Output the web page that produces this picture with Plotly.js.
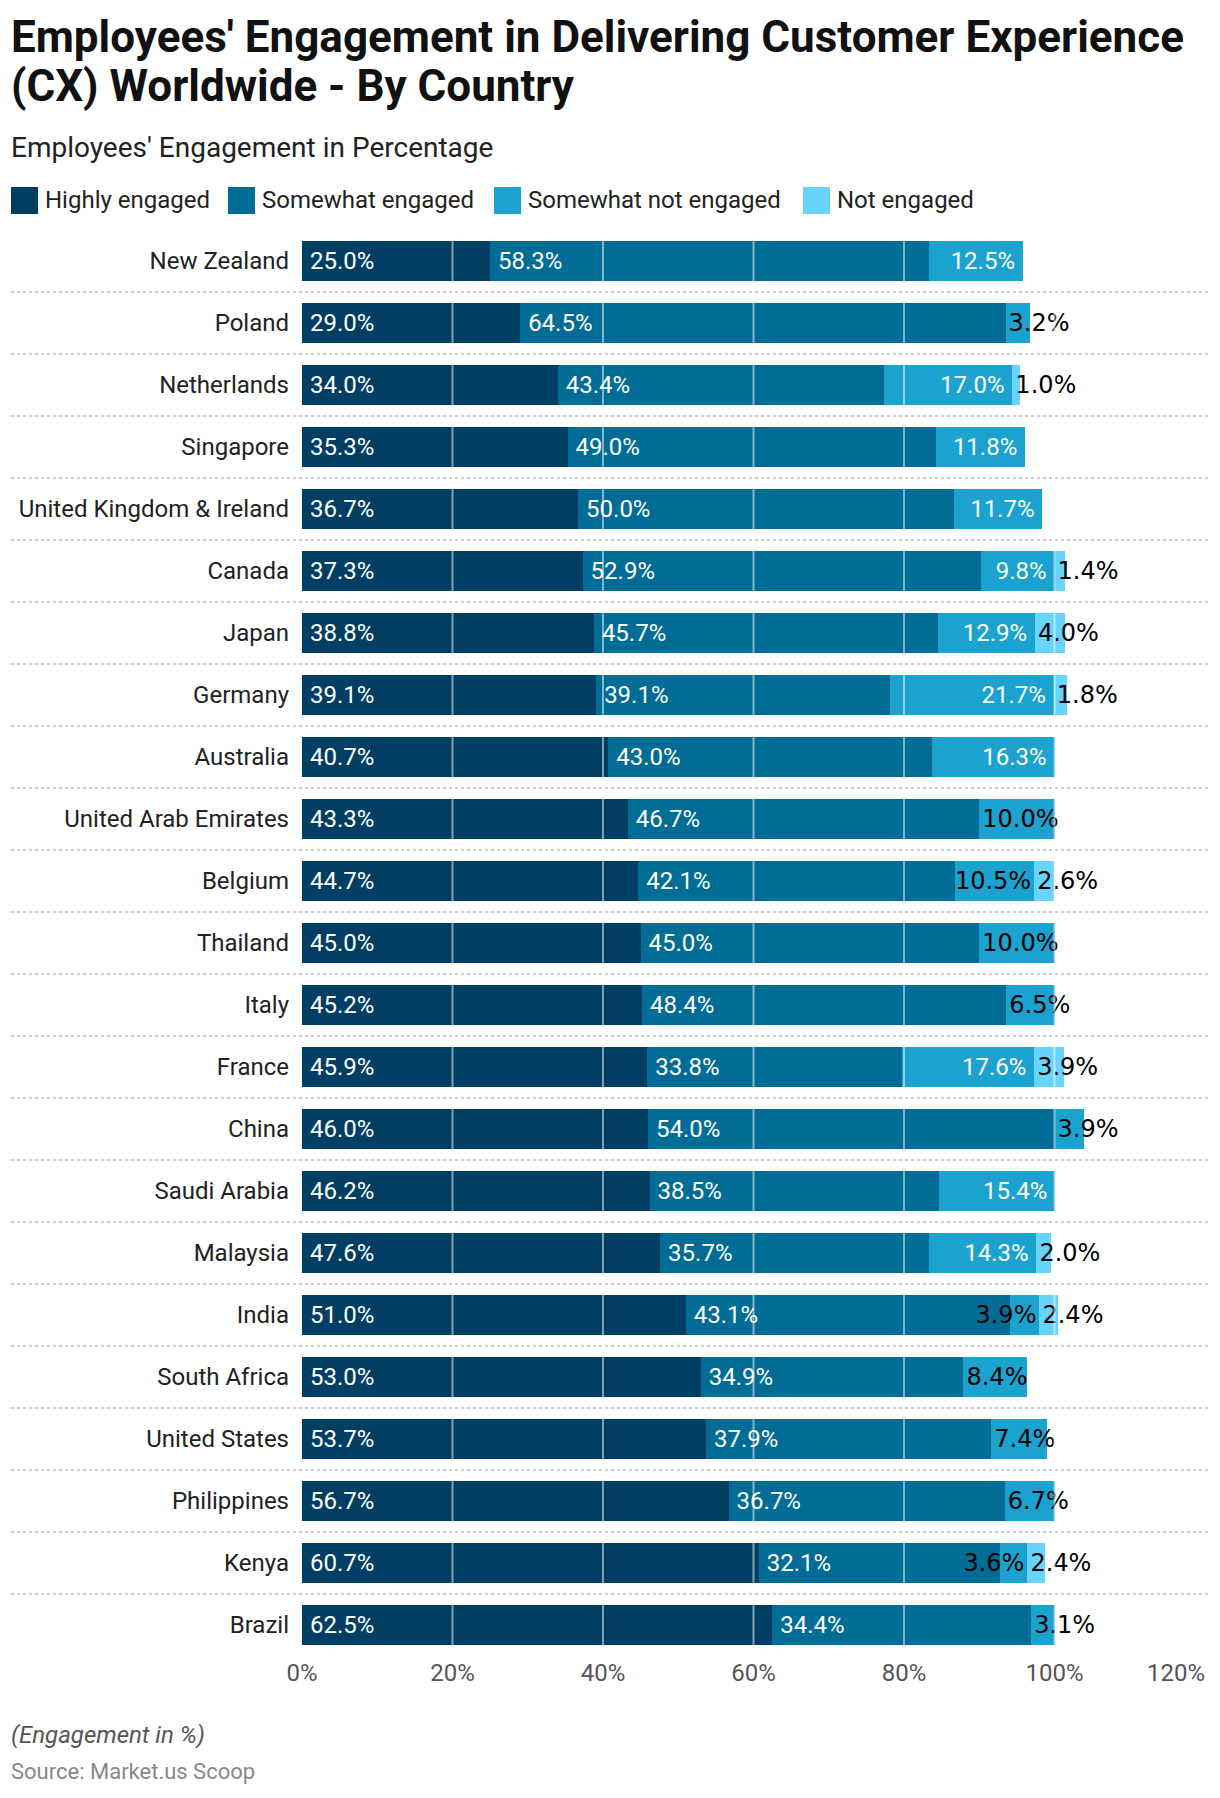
<!DOCTYPE html>
<html>
<head>
<meta charset="utf-8">
<script src="https://cdn.plot.ly/plotly-3.0.1.min.js"></script>
<style>
  html, body { margin: 0; padding: 0; background: #ffffff; }
  #chart { width: 1220px; height: 1798px; }
</style>
</head>
<body>
<div id="chart"></div>
<script>
// ---------------- DATA ----------------
const countries = [
  'New Zealand', 'Poland', 'Netherlands', 'Singapore', 'United Kingdom & Ireland',
  'Canada', 'Japan', 'Germany', 'Australia', 'United Arab Emirates', 'Belgium',
  'Thailand', 'Italy', 'France', 'China', 'Saudi Arabia', 'Malaysia', 'India',
  'South Africa', 'United States', 'Philippines', 'Kenya', 'Brazil'
];
const highlyEngaged = [25.0, 29.0, 34.0, 35.3, 36.7, 37.3, 38.8, 39.1, 40.7, 43.3, 44.7,
  45.0, 45.2, 45.9, 46.0, 46.2, 47.6, 51.0, 53.0, 53.7, 56.7, 60.7, 62.5];
const somewhatEngaged = [58.3, 64.5, 43.4, 49.0, 50.0, 52.9, 45.7, 39.1, 43.0, 46.7, 42.1,
  45.0, 48.4, 33.8, 54.0, 38.5, 35.7, 43.1, 34.9, 37.9, 36.7, 32.1, 34.4];
const somewhatNotEngaged = [12.5, 3.2, 17.0, 11.8, 11.7, 9.8, 12.9, 21.7, 16.3, 10.0, 10.5,
  10.0, 6.5, 17.6, 3.9, 15.4, 14.3, 3.9, 8.4, 7.4, 6.7, 3.6, 3.1];
const notEngaged = [null, null, 1.0, null, null, 1.4, 4.0, 1.8, null, null, 2.6,
  null, null, 3.9, null, null, 2.0, 2.4, null, null, null, 2.4, null];
const seriesNames = ['Highly engaged', 'Somewhat engaged', 'Somewhat not engaged', 'Not engaged'];
const xTickValues = [0, 20, 40, 60, 80, 100, 120];
const xTickLabels = ['0%', '20%', '40%', '60%', '80%', '100%', '120%'];

const titleLines = ["Employees' Engagement in Delivering Customer Experience", "(CX) Worldwide - By Country"];
const subtitleText = "Employees' Engagement in Percentage";
const noteText = "(Engagement in %)";
const sourceText = "Source: Market.us Scoop";

// ---------------- LAYOUT CONSTANTS ----------------
const W = 1220, H = 1798;
const M = { l: 302, r: 15, t: 230, b: 142 };
const plotW = W - M.l - M.r;
const plotH = H - M.t - M.b;
const X_MAX = 120;
const pxPerUnit = plotW / X_MAX;
const COLORS = ['#003f63', '#016d96', '#1ba2cf', '#67d4fd'];
const WHITE_FONT = 'Roboto, sans-serif';
const DARK_FONT = '"DejaVu Sans", sans-serif';
const LABEL_SIZE = 24;
const PAD = '\u2009';

const px2x = px => (px - M.l) / plotW;
const px2y = py => (M.t + plotH - py) / plotH;
const fmt = v => v.toFixed(1) + '%';
const fits = v => v * pxPerUnit >= fmt(v).length * 15.3 + 6;

// ---------------- TRACES ----------------
function barTrace(name, values, color, anchor, fontColors, fontFamilies, padded) {
  return {
    type: 'bar',
    orientation: 'h',
    name: name,
    y: countries,
    x: values,
    text: values.map((v, i) => (v == null ? '' : (padded[i] ? PAD + fmt(v) + PAD : fmt(v)))),
    textposition: 'inside',
    insidetextanchor: anchor,
    textangle: 0,
    constraintext: 'none',
    cliponaxis: false,
    textfont: { size: LABEL_SIZE, color: fontColors, family: fontFamilies },
    marker: { color: color, line: { width: 0 } },
    hoverinfo: 'name+x+y',
    showlegend: false
  };
}

const n = countries.length;
const whiteCols = countries.map(() => '#ffffff');
const whiteFams = countries.map(() => WHITE_FONT);
const blackCols = countries.map(() => '#000000');
const blackFams = countries.map(() => DARK_FONT);
const allPad = countries.map(() => true);
const noPad = countries.map(() => false);

// Somewhat-not-engaged split by label placement (same series, same colour)
const endAnchored = (v, i) => fits(v) || notEngaged[i] != null;
const sneEnd = somewhatNotEngaged.map((v, i) => endAnchored(v, i) ? v : null);
const sneStart = somewhatNotEngaged.map((v, i) => endAnchored(v, i) ? null : v);
const sneEndCols = somewhatNotEngaged.map(v => fits(v) ? '#ffffff' : '#000000');
const sneEndFams = somewhatNotEngaged.map(v => fits(v) ? WHITE_FONT : DARK_FONT);
const sneEndPad = somewhatNotEngaged.map(v => fits(v));

const traces = [
  barTrace(seriesNames[0], highlyEngaged, COLORS[0], 'start', whiteCols, whiteFams, allPad),
  barTrace(seriesNames[1], somewhatEngaged, COLORS[1], 'start', whiteCols, whiteFams, allPad),
  barTrace(seriesNames[2], sneEnd, COLORS[2], 'end', sneEndCols, sneEndFams, sneEndPad),
  barTrace(seriesNames[2], sneStart, COLORS[2], 'start', blackCols, blackFams, noPad),
  barTrace(seriesNames[3], notEngaged, COLORS[3], 'start', blackCols, blackFams, noPad),
  // empty helper trace so the overlaying axis (last tick label) is drawn
  { type: 'scatter', mode: 'markers', x: [], y: [], xaxis: 'x2', yaxis: 'y',
    hoverinfo: 'skip', showlegend: false }
];

// ---------------- SHAPES ----------------
const shapes = [];
for (let i = 0; i < n - 1; i++) {
  shapes.push({
    type: 'line', xref: 'paper', yref: 'y',
    x0: px2x(11), x1: px2x(1208), y0: i + 0.5, y1: i + 0.5,
    line: { color: '#cccccc', width: 2, dash: 'dot' }, layer: 'below'
  });
}
xTickValues.filter(v => v > 0 && v < X_MAX).forEach(v => {
  shapes.push({
    type: 'line', xref: 'x', yref: 'paper', x0: v, x1: v, y0: 0, y1: 1,
    line: { color: 'rgba(255,255,255,0.5)', width: 2 }, layer: 'above'
  });
});

// custom legend
const legendSquares = [11, 228, 494, 803];
const annotations = [];
seriesNames.forEach((name, k) => {
  const x0 = legendSquares[k];
  shapes.push({
    type: 'rect', xref: 'paper', yref: 'paper',
    x0: px2x(x0), x1: px2x(x0 + 27), y0: px2y(187), y1: px2y(214),
    fillcolor: COLORS[k], line: { width: 0 }, layer: 'above'
  });
  annotations.push({
    xref: 'paper', yref: 'paper', x: px2x(x0 + 32), y: px2y(200),
    xanchor: 'left', yanchor: 'middle', showarrow: false, text: name,
    font: { family: 'Roboto', size: 24, color: '#222222' }
  });
});

// title lines
[37, 86].forEach((py, k) => {
  annotations.push({
    xref: 'paper', yref: 'paper', x: px2x(9), y: px2y(py),
    xanchor: 'left', yanchor: 'middle', showarrow: false, text: '<b>' + titleLines[k] + '</b>',
    font: { family: 'Roboto', size: 44, color: '#111111' }
  });
});
annotations.push({
  xref: 'paper', yref: 'paper', x: px2x(9), y: px2y(147),
  xanchor: 'left', yanchor: 'middle', showarrow: false, text: subtitleText,
  font: { family: 'Roboto', size: 28, color: '#222222' }
});
annotations.push({
  xref: 'paper', yref: 'paper', x: px2x(9), y: px2y(1735),
  xanchor: 'left', yanchor: 'middle', showarrow: false, text: '<i>' + noteText + '</i>',
  font: { family: 'Roboto', size: 24, color: '#555555' }
});
annotations.push({
  xref: 'paper', yref: 'paper', x: px2x(9), y: px2y(1771),
  xanchor: 'left', yanchor: 'middle', showarrow: false, text: sourceText,
  font: { family: 'Roboto', size: 22, color: '#888888' }
});

const lastTick = xTickValues.length - 1;
const tickFont = { family: 'Roboto', size: 24, color: '#555555' };

const layout = {
  width: W, height: H,
  margin: M,
  paper_bgcolor: '#ffffff', plot_bgcolor: '#ffffff',
  barmode: 'stack',
  bargap: 0.355,
  showlegend: false,
  font: { family: 'Roboto, sans-serif', color: '#222222' },
  xaxis: {
    range: [0, X_MAX],
    tickmode: 'array',
    tickvals: xTickValues.slice(0, lastTick),
    ticktext: xTickLabels.slice(0, lastTick),
    showgrid: false, zeroline: false, showline: false, ticks: '',
    tickfont: tickFont,
    fixedrange: true
  },
  // the last tick label sits left of its tick so it stays inside the page
  xaxis2: {
    overlaying: 'x', anchor: 'y', side: 'bottom',
    range: [0, X_MAX],
    tickmode: 'array',
    tickvals: xTickValues.slice(lastTick),
    ticktext: xTickLabels.slice(lastTick),
    ticklabelposition: 'outside left',
    showgrid: false, zeroline: false, showline: false, ticks: '',
    tickfont: tickFont,
    fixedrange: true
  },
  yaxis: {
    type: 'category',
    autorange: 'reversed',
    showgrid: false, zeroline: false, showline: false, ticks: '',
    ticklabelstandoff: 12,
    tickfont: { family: 'Roboto', size: 24, color: '#222222' },
    fixedrange: true
  },
  shapes: shapes,
  annotations: annotations
};

Plotly.newPlot('chart', traces, layout, { displayModeBar: false, staticPlot: true });
</script>
</body>
</html>
